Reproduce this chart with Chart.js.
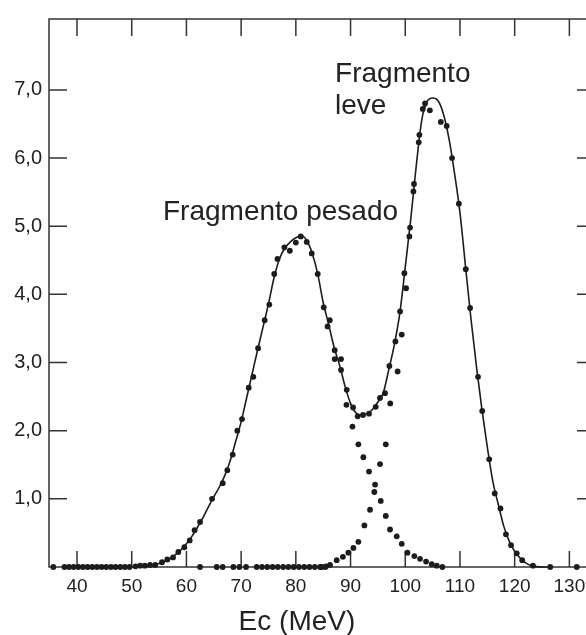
<!DOCTYPE html>
<html><head><meta charset="utf-8">
<style>
html,body{margin:0;padding:0;background:#fff;overflow:hidden;width:586px;height:635px;}
#wrap{width:600px;height:635px;}
</style>
<script src="https://cdn.jsdelivr.net/npm/chart.js@4/dist/chart.umd.min.js"></script>
</head><body>
<div id="wrap"><canvas id="c" width="600" height="635"></canvas></div>
<script>
const xTicks = [40, 50, 60, 70, 80, 90, 100, 110, 120, 130];
const yTicks = [1, 2, 3, 4, 5, 6, 7];
const xTitle = 'Ec (MeV)';

// fitted (solid) curve
const fitE = [50, 52, 54, 55, 56, 57, 58, 59, 60, 61, 62, 63, 64, 65, 66, 67, 68, 69, 70, 71, 72, 73, 74, 75, 76, 77, 78, 79, 80, 81, 82, 83, 84, 85, 86, 87, 88, 89, 90, 91, 92, 93, 94, 95, 96, 97, 98, 99, 100, 101, 102, 103, 104, 105, 106, 107, 108, 109, 110, 111, 112, 113, 114, 115, 116, 117, 118, 119, 120, 121, 122, 123, 124, 125, 126];
const fitY = [0, 0.01, 0.03, 0.05, 0.08, 0.12, 0.18, 0.25, 0.34, 0.45, 0.58, 0.72, 0.88, 1.03, 1.17, 1.34, 1.56, 1.84, 2.13, 2.48, 2.83, 3.18, 3.52, 3.86, 4.24, 4.52, 4.68, 4.77, 4.83, 4.86, 4.79, 4.60, 4.30, 3.88, 3.56, 3.22, 2.96, 2.65, 2.40, 2.26, 2.23, 2.25, 2.31, 2.42, 2.56, 2.90, 3.26, 3.72, 4.40, 5.10, 5.88, 6.55, 6.83, 6.88, 6.84, 6.64, 6.28, 5.78, 5.20, 4.42, 3.65, 2.95, 2.32, 1.76, 1.26, 0.92, 0.60, 0.38, 0.23, 0.13, 0.06, 0.02, 0.005, 0, 0];

// measured spectrum (dots on the curve)
const totalE = [35.67, 37.7, 38.55, 39.4, 40.25, 41.1, 41.95, 42.8, 43.65, 44.5, 45.35, 46.2, 47.05, 47.9, 48.75, 49.6, 50.7, 51.55, 52.4, 53.35, 54.3, 55.54, 56.51, 57.55, 58.52, 59.62, 60.6, 61.5, 62.49, 64.68, 66.63, 67.48, 68.46, 69.3, 70.16, 71.39, 72.23, 73.1, 74.3, 75.15, 76.05, 76.65, 77.9, 78.9, 80.0, 80.9, 81.99, 82.9, 84.0, 85.1, 86.2, 87.1, 88.26, 89.3, 90.46, 91.3, 92.28, 93.38, 94.6, 95.38, 96.3, 97.1, 98.2, 99.05, 99.84, 100.75, 101.49, 102.46, 103.2, 104.5, 106.5, 107.57, 108.55, 109.8, 111.06, 111.85, 113.3, 114.07, 115.35, 116.36, 117.4, 118.4, 119.34, 120.38, 121.38, 123.35, 126.5, 131.35];
const totalY = [0, 0, 0, 0, 0, 0, 0, 0, 0, 0, 0, 0, 0, 0, 0, 0, 0.01, 0.02, 0.02, 0.03, 0.03, 0.07, 0.11, 0.14, 0.22, 0.29, 0.39, 0.54, 0.66, 1.00, 1.23, 1.42, 1.65, 2.00, 2.17, 2.63, 2.79, 3.21, 3.62, 3.85, 4.30, 4.52, 4.69, 4.64, 4.76, 4.85, 4.77, 4.60, 4.30, 3.81, 3.62, 3.18, 3.05, 2.60, 2.34, 2.21, 2.23, 2.25, 2.35, 2.48, 2.55, 2.95, 3.31, 3.75, 4.31, 4.85, 5.51, 6.23, 6.72, 6.70, 6.53, 6.47, 6.00, 5.33, 4.37, 3.80, 2.79, 2.29, 1.58, 1.08, 0.86, 0.48, 0.32, 0.20, 0.10, 0.02, 0, 0];

// light fragment component (dots)
const lightE = [62.49, 65.54, 66.63, 68.58, 69.68, 70.9, 72.85, 73.82, 74.78, 75.75, 76.71, 77.68, 78.64, 79.61, 80.57, 81.54, 82.5, 83.47, 84.43, 85.4, 86.25, 87.47, 88.6, 89.6, 90.52, 91.43, 92.53, 93.56, 94.35, 95.39, 96.44, 97.25, 98.6, 99.36, 100.15, 100.88, 101.6, 102.58, 103.62];
const lightY = [0, 0, 0, 0, 0, 0, 0, 0, 0, 0, 0, 0, 0, 0, 0, 0, 0, 0, 0, 0, 0.03, 0.10, 0.15, 0.21, 0.28, 0.37, 0.61, 0.84, 1.10, 1.51, 1.80, 2.40, 2.87, 3.41, 4.09, 4.98, 5.62, 6.34, 6.80];

// heavy fragment component (dots off the total curve)
const heavyE = [84.73, 85.52, 85.8, 87.1, 88.26, 89.25, 90.35, 91.43, 92.34, 93.38, 94.48, 95.52, 96.44, 97.22, 98.44, 99.36, 100.4, 101.66, 102.7, 103.8, 104.84, 105.76, 106.78];
const heavyY = [0, 0.01, 3.53, 3.05, 2.89, 2.38, 2.06, 1.80, 1.61, 1.40, 1.21, 0.97, 0.75, 0.55, 0.45, 0.34, 0.21, 0.16, 0.12, 0.08, 0.04, 0.02, 0];

const annotations = [
  {text: 'Fragmento pesado', e: 55.72, v: 5.09},
  {text: 'Fragmento', e: 87.17, v: 7.11},
  {text: 'leve', e: 87.17, v: 6.64}
];
const xTitleAt = 80.2; // horizontal centre of the axis title, in MeV

const FONT = '"Liberation Sans", Arial, sans-serif';
const INK = '#1c1c1c';
const pts = (xs, ys) => xs.map((x, i) => ({x, y: ys[i]}));

const dotStyle = {
  type: 'scatter', showLine: false, pointRadius: 2.9, pointHoverRadius: 2.9,
  pointBackgroundColor: INK, pointBorderWidth: 0, clip: false
};

const framePlugin = {
  id: 'frame',
  beforeDatasetsDraw(chart) {
    const {ctx, chartArea: a, scales: {x, y}} = chart;
    ctx.save();
    ctx.strokeStyle = '#333';
    ctx.lineWidth = 1.5;
    ctx.strokeRect(a.left, a.top, a.right - a.left, a.bottom - a.top);
    ctx.beginPath();
    xTicks.forEach(v => {
      const px = x.getPixelForValue(v);
      ctx.moveTo(px, a.bottom); ctx.lineTo(px, a.bottom - 16);
      ctx.moveTo(px, a.top); ctx.lineTo(px, a.top + 17);
    });
    yTicks.forEach(v => {
      const py = y.getPixelForValue(v);
      ctx.moveTo(a.left, py); ctx.lineTo(a.left + 18, py);
      ctx.moveTo(a.right, py); ctx.lineTo(a.right - 17, py);
    });
    ctx.stroke();
    ctx.fillStyle = '#222';
    ctx.font = '28px ' + FONT;
    ctx.textAlign = 'left';
    ctx.textBaseline = 'alphabetic';
    annotations.forEach(l => ctx.fillText(l.text, x.getPixelForValue(l.e), y.getPixelForValue(l.v)));
    ctx.textAlign = 'center';
    ctx.fillText(xTitle, x.getPixelForValue(xTitleAt), a.bottom + 63);
    ctx.restore();
  }
};

new Chart(document.getElementById('c'), {
  type: 'scatter',
  data: {
    datasets: [
      {type: 'line', label: 'ajuste', data: pts(fitE, fitY), borderColor: INK, borderWidth: 1.6,
       pointRadius: 0, fill: false, cubicInterpolationMode: 'monotone', clip: false},
      Object.assign({label: 'total', data: pts(totalE, totalY)}, dotStyle),
      Object.assign({label: 'leve', data: pts(lightE, lightY)}, dotStyle),
      Object.assign({label: 'pesado', data: pts(heavyE, heavyY)}, dotStyle)
    ]
  },
  options: {
    responsive: false,
    animation: false,
    events: [],
    layout: {padding: {top: 16, right: 6, left: 0, bottom: 0}, autoPadding: false},
    plugins: {legend: {display: false}, tooltip: {enabled: false}},
    scales: {
      x: {
        type: 'linear', min: 34.88, max: 134.5,
        afterBuildTicks: s => { s.ticks = xTicks.map(v => ({value: v})); },
        afterFit: s => { s.height = 68; },
        grid: {display: false, drawTicks: false},
        border: {display: false},
        ticks: {color: '#222', font: {family: FONT, size: 19}, padding: 8, maxRotation: 0, autoSkip: false},
        title: {display: false}
      },
      y: {
        type: 'linear', min: 0, max: 8.04,
        afterBuildTicks: s => { s.ticks = yTicks.map(v => ({value: v})); },
        afterFit: s => { s.width = 49; },
        grid: {display: false, drawTicks: false},
        border: {display: false},
        ticks: {color: '#222', font: {family: FONT, size: 20}, padding: 7,
                callback: v => v.toFixed(1).replace('.', ',')}
      }
    }
  },
  plugins: [framePlugin]
});
</script>
</body></html>
